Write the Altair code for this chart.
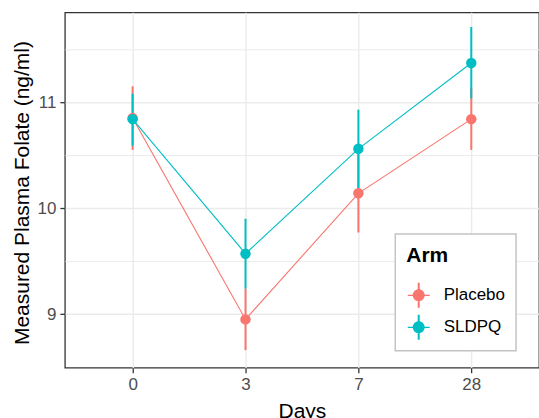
import altair as alt
import pandas as pd

# ---- data ----
days = ["0", "3", "7", "28"]
arms = ["Placebo", "SLDPQ"]
placebo_mean = [10.85, 8.95, 10.14, 10.84]
placebo_low = [10.55, 8.66, 9.77, 10.55]
placebo_high = [11.15, 9.24, 10.51, 11.13]
sldpq_mean = [10.84, 9.57, 10.56, 11.37]
sldpq_low = [10.59, 9.24, 10.19, 11.035]
sldpq_high = [11.08, 9.90, 10.93, 11.71]
y_major = [9, 10, 11]
y_minor = [9.5, 10.5, 11.5]
arm_colors = ["#F8766D", "#00BFC4"]

rows = []
for arm, means, lows, highs in [
    ("Placebo", placebo_mean, placebo_low, placebo_high),
    ("SLDPQ", sldpq_mean, sldpq_low, sldpq_high),
]:
    for d, m, lo, hi in zip(days, means, lows, highs):
        rows.append({"day": d, "arm": arm, "mean": m, "low": lo, "high": hi})
df = pd.DataFrame(rows)

FONT = "Liberation Sans"
GRID = "#EBEBEB"

y_scale = alt.Scale(domain=[8.494, 11.848], nice=False, zero=False)
color_scale = alt.Scale(domain=arms, range=arm_colors)
# separate stroke scale (data-driven domain, sorted: Placebo, SLDPQ) so that
# its disabled legend is not merged into the colour legend
stroke_scale = alt.Scale(range=arm_colors)

x_enc = alt.X(
    "day:N",
    sort=days,
    scale=alt.Scale(type="point", padding=0.6),
    axis=alt.Axis(
        title="Days", labelAngle=0, grid=True, gridColor=GRID, gridWidth=1.4,
        domain=False, ticks=True, tickSize=5, tickColor="#333333", tickWidth=1.3,
        labelFontSize=17, labelColor="#4D4D4D", labelPadding=4,
        titleFontSize=21, titleFontWeight="normal", titleColor="black",
        titleX=237.5, titleY=50, titleBaseline="alphabetic", titleAlign="center",
    ),
)

minor_axis = alt.Axis(
    values=y_minor, grid=True, gridColor=GRID, gridWidth=1.0,
    labels=False, ticks=False, domain=False, title=None, orient="left",
)
major_axis = alt.Axis(
    values=y_major, format="d", title="Measured Plasma Folate (ng/ml)",
    grid=True, gridColor=GRID, gridWidth=1.4, domain=False,
    tickSize=5, tickColor="#333333", tickWidth=1.3,
    labelFontSize=17, labelColor="#4D4D4D", labelPadding=4,
    titleFontSize=21, titleColor="black", titleFontWeight="normal",
    titleX=-36.7, titleY=180.5, titleAngle=270, titleBaseline="alphabetic",
    titleAlign="center", orient="left",
)

legend_symbol = (
    "M-0.48,0 A0.48,0.48 0 1,1 0.48,0 A0.48,0.48 0 1,1 -0.48,0 Z "
    "M-0.08,-1 L0.08,-1 L0.08,1 L-0.08,1 Z "
    "M-0.88,-0.05 L0.88,-0.05 L0.88,0.05 L-0.88,0.05 Z"
)

lines = alt.Chart(df).mark_line(strokeWidth=1.1).encode(
    x=x_enc,
    y=alt.Y("mean:Q", scale=y_scale, axis=minor_axis),
    stroke=alt.Stroke("arm:N", scale=stroke_scale, legend=None),
)

bars = alt.Chart(df).mark_rule(strokeWidth=2).encode(
    x=x_enc,
    y=alt.Y("low:Q", scale=y_scale, axis=None),
    y2="high:Q",
    stroke=alt.Stroke("arm:N", scale=stroke_scale, legend=None),
)

points = alt.Chart(df).mark_point(filled=True, size=110, opacity=1).encode(
    x=x_enc,
    y=alt.Y("mean:Q", scale=y_scale, axis=major_axis),
    color=alt.Color(
        "arm:N", scale=color_scale,
        legend=alt.Legend(
            title="Arm", orient="none", legendX=331, legendY=222,
            symbolType=legend_symbol, symbolSize=625, symbolStrokeWidth=0,
            symbolOpacity=1, labelFontSize=17, labelColor="black",
            titleFontSize=21, titleFontWeight="bold", titleColor="black",
            padding=11, strokeColor="#C4C4C4", fillColor="white",
            rowPadding=7, labelOffset=12.5, titlePadding=17,
        ),
    ),
)

chart = (
    alt.layer(lines, bars, points)
    .resolve_axis(y="independent")
    .properties(
        width=475, height=356,
        autosize=alt.AutoSizeParams(type="none"),
        padding={"left": 65, "top": 12, "right": 0, "bottom": 50},
    )
    .configure(font=FONT)
    .configure_view(stroke="#333333", strokeWidth=1.3)
    .configure_legend(strokeWidth=1.5)
)

chart.save("out.html", embed_options={"renderer": "svg", "actions": False})
